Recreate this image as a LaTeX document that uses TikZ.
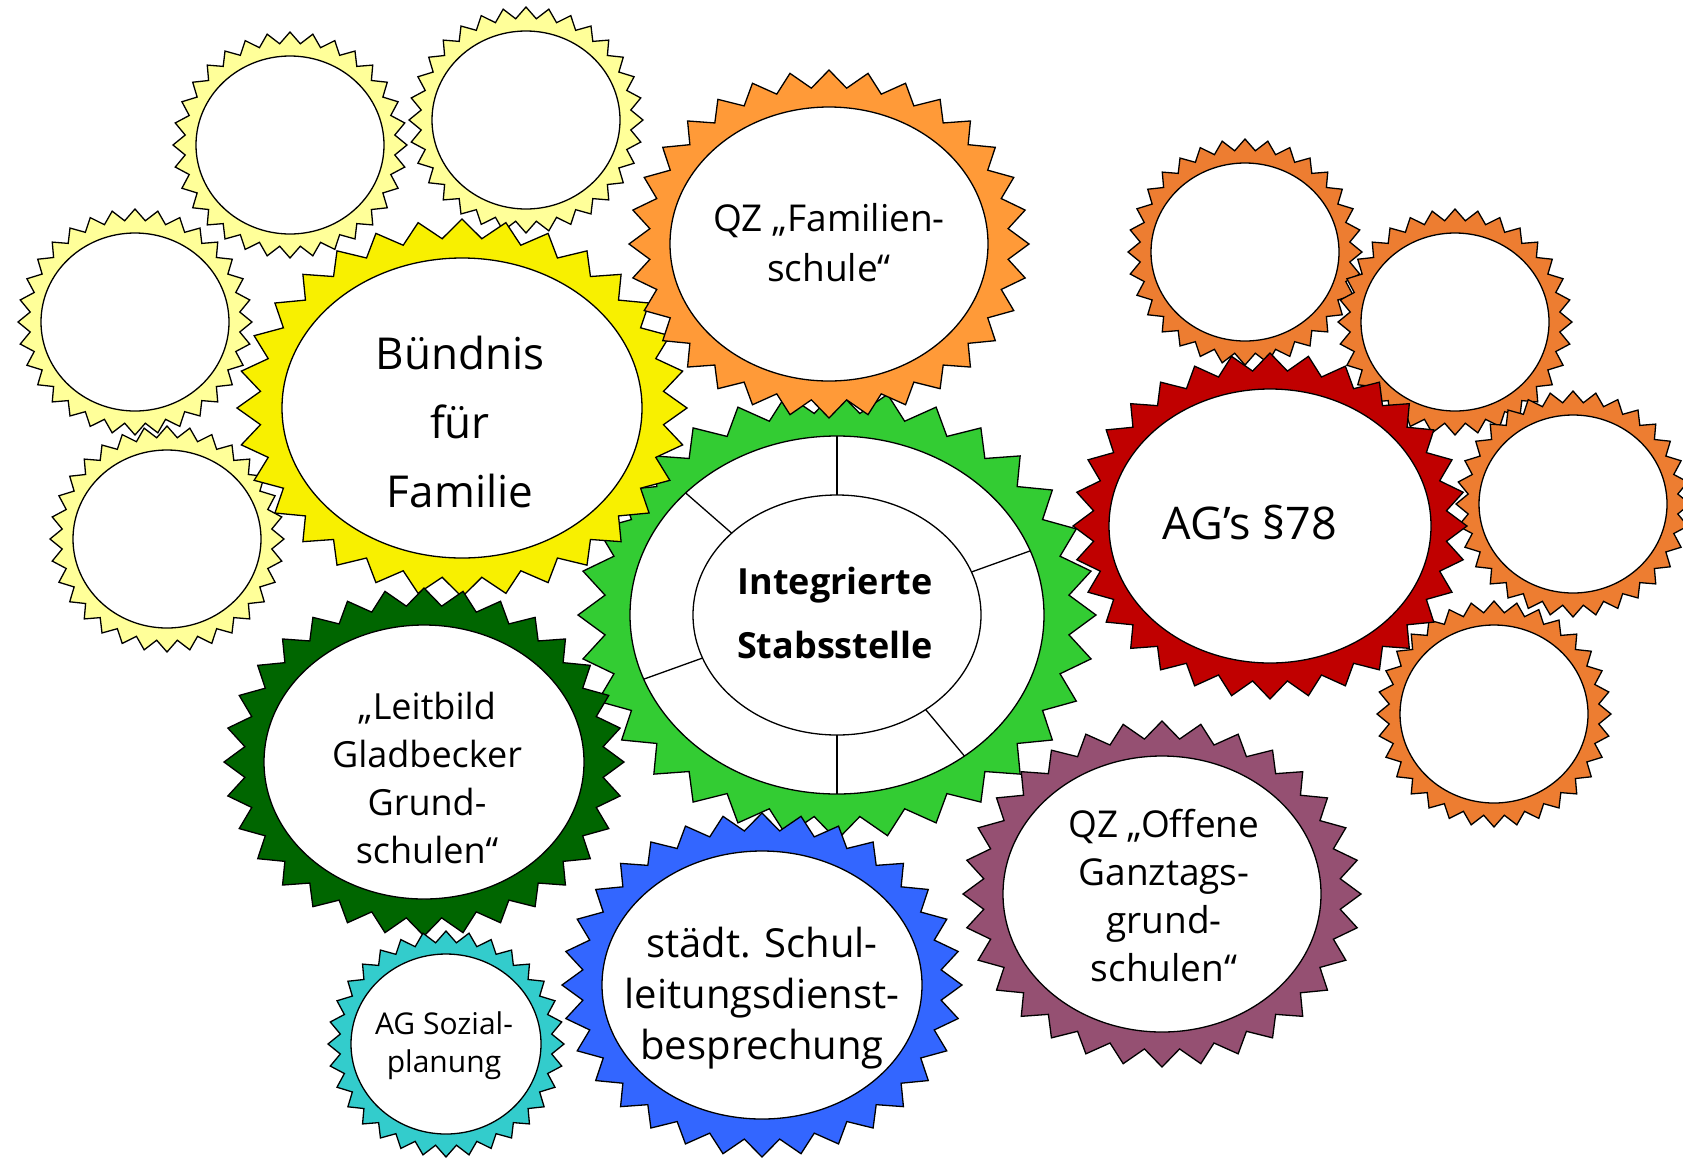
\documentclass[tikz,border=0pt]{standalone}
\usepackage{fontspec}
\setmainfont{Open Sans}
\usetikzlibrary{shapes.geometric,calc}

\definecolor{lyellow}{HTML}{FFFF99}
\definecolor{byellow}{HTML}{F8F000}
\definecolor{qzorange}{HTML}{FF9A38}
\definecolor{sorange}{HTML}{ED7D31}
\definecolor{ggreen}{HTML}{33CC33}
\definecolor{rred}{HTML}{C00000}
\definecolor{dgreen}{HTML}{006600}
\definecolor{ccyan}{HTML}{33CCCC}
\definecolor{bblue}{HTML}{3366FF}
\definecolor{ppurple}{HTML}{955072}

\tikzset{
  gearline/.style={draw=black, line width=1.3pt, line join=miter},
  hole/.style={ellipse, draw=black, line width=1.3pt, fill=white, inner sep=0pt},
  lbl/.style={align=center, inner sep=0pt, text=black},
  divider/.style={draw=black, line width=1.3pt},
}

% #1 name, #2 cx, #3 cy, #4 outer rx, #5 outer ry, #6 hole rx, #7 hole ry, #8 colour
\newcommand\mygear[8]{%
  \begin{scope}[shift={(#2,#3)}]
    \filldraw[gearline, fill=#8] (0:#4 and #5)
      \foreach \k [evaluate=\k as \f using {0.95+0.05*cos(180*\k)}] in {1,...,63}
        { -- ({\k*5.625}:{\f*#4} and {\f*#5}) } -- cycle;
  \end{scope}
  \node[hole, minimum width={2*#6*1pt}, minimum height={2*#7*1pt}] (#1) at (#2,#3) {};
}

\begin{document}
\begin{tikzpicture}[x=1pt, y=-1pt]
\useasboundingbox[fill=white] (0,0) rectangle (1683,1168);

% small light-yellow gears
\mygear{ya}{290}{145}{117}{113}{94}{89}{lyellow}
\mygear{yb}{526}{120}{117}{113}{94}{89}{lyellow}
\mygear{yc}{135}{322}{117}{113}{94}{89}{lyellow}
\mygear{yd}{167}{539}{117}{113}{94}{89}{lyellow}

% small orange gears
\mygear{oe}{1245}{252}{117}{113}{94}{89}{sorange}
\mygear{of}{1455}{322}{117}{113}{94}{89}{sorange}
\mygear{og}{1573}{504}{117}{113}{94}{89}{sorange}
\mygear{oh}{1494}{714}{117}{113}{94}{89}{sorange}

% central green gear
\mygear{ring}{837}{615}{259}{225}{207}{179}{ggreen}
\node[hole, minimum width=288pt, minimum height=240pt] (core) at (837,615) {};
\foreach \t in {21,90,137,201,270,308}
  \draw[divider] ($(core.center)+(-\t:144 and 120)$) -- ($(ring.center)+(-\t:207 and 179)$);
\node[lbl, font=\fontsize{36}{64}\selectfont\bfseries] (tis) at (835,613) {Integrierte\\Stabsstelle};

% big gears
\mygear{bff}{462}{408}{225}{189}{180}{150}{byellow}
\node[lbl, font=\fontsize{44}{69}\selectfont] (tbff) at (460,422) {Bündnis\\für\\Familie};

\mygear{qzf}{829}{244}{200}{174}{159}{137}{qzorange}
\node[lbl, font=\fontsize{37}{50}\selectfont] (tqzf) at (829,243) {QZ „Familien-\\schule“};

\mygear{ag}{1270}{526}{197}{173}{161}{137}{rred}
\node[lbl, font=\fontsize{45}{54}\selectfont] (tag) at (1250,523) {AG’s §78};

\mygear{lgg}{424}{762}{200}{174}{160}{137}{dgreen}
\node[lbl, font=\fontsize{36}{48}\selectfont] (tlgg) at (427,778) {„Leitbild\\Gladbecker\\Grund-\\schulen“};

\mygear{soz}{446}{1044}{118}{113}{95}{90}{ccyan}
\node[lbl, font=\fontsize{30}{38}\selectfont] (tsoz) at (444,1046) {AG Sozial-\\planung};

\mygear{sld}{762}{985}{200}{172}{160}{134}{bblue}
\node[lbl, font=\fontsize{40}{51}\selectfont] (tsld) at (762,998) {städt. Schul-\\leitungsdienst-\\besprechung};

\mygear{ogs}{1162}{894}{199}{173}{159}{138}{ppurple}
\node[lbl, font=\fontsize{37}{48}\selectfont] (togs) at (1164,896) {QZ „Offene\\Ganztags-\\grund-\\schulen“};

\end{tikzpicture}
\end{document}
